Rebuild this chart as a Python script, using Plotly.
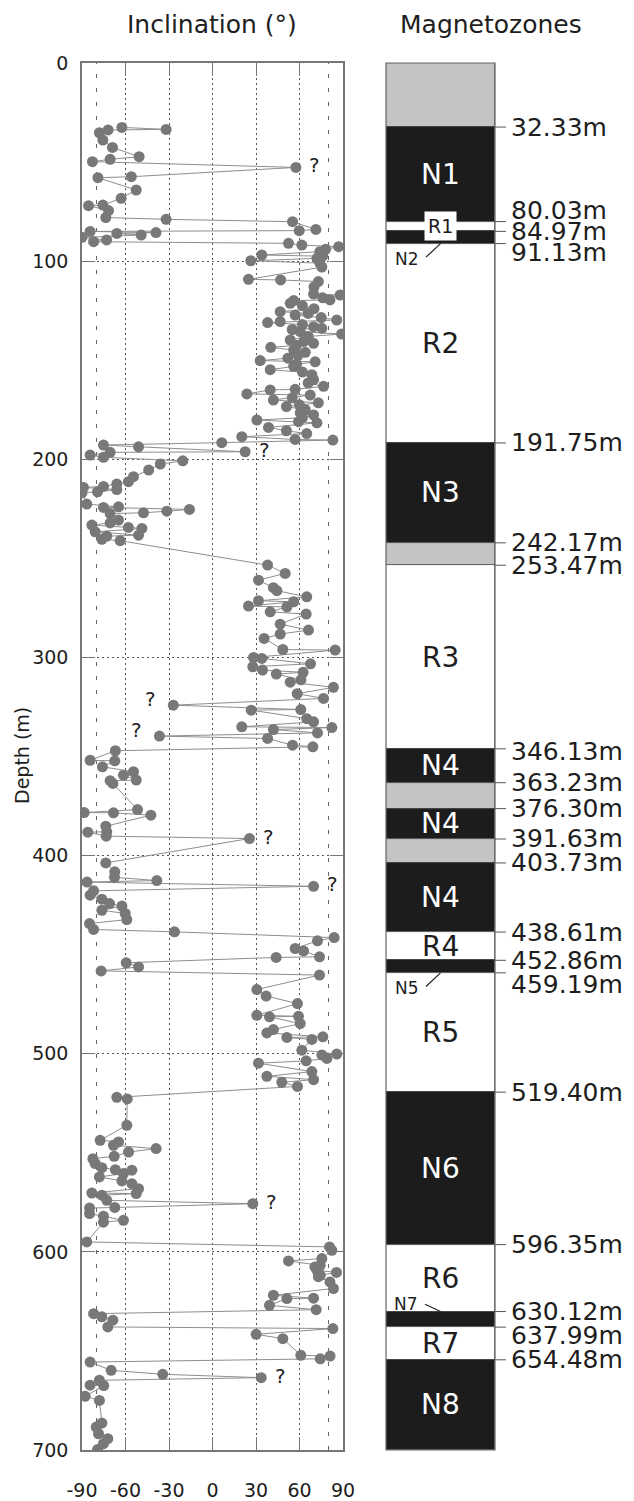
import plotly.graph_objects as go

# ---------------- data ----------------
depth_m = [
    32.5, 33.5, 33.8, 35.2, 38.9, 42.6, 47.3, 48.6, 49.8, 52.7, 57.4, 57.9, 64.1, 68.3, 71.7, 72.0,
    74.5, 78.0, 78.9, 80.1, 84.0, 84.6, 85.0, 85.6, 86.0, 86.8, 88.0, 89.3, 90.2, 91.0, 91.9, 92.7,
    94.0, 95.2, 96.9, 97.5, 98.6, 99.8, 101.0, 103.0, 109.2, 109.5, 110.3, 113.0, 116.6, 117.1, 118.5,
    119.6, 119.9, 121.3, 122.5, 124.0, 125.5, 126.4, 127.2, 128.5, 129.7, 130.5, 131.0, 132.0, 133.1,
    133.9, 134.5, 135.6, 136.8, 138.0, 139.8, 140.5, 141.5, 142.5, 143.5, 144.9, 146.0, 147.5, 149.0,
    150.2, 150.8, 152.0, 153.1, 154.8, 156.0, 157.3, 159.8, 161.5, 163.2, 164.7, 165.0, 167.0, 167.6,
    169.0, 170.1, 171.5, 172.5, 173.4, 175.0, 176.5, 177.6, 179.0, 180.2, 181.0, 181.6, 183.9, 185.6,
    187.0, 188.6, 190.0, 190.3, 191.6, 192.8, 193.7, 196.2, 196.5, 197.9, 199.0, 200.8, 202.4, 205.4,
    208.8, 211.3, 212.5, 213.7, 214.2, 215.3, 216.4, 216.9, 222.6, 224.0, 224.3, 225.3, 226.2, 227.0,
    227.4, 230.7, 232.1, 233.2, 234.4, 234.9, 236.6, 238.3, 238.8, 240.4, 241.1, 253.4, 257.6, 261.0,
    264.8, 266.3, 269.4, 271.4, 271.9, 274.1, 274.5, 277.0, 278.1, 283.2, 286.2, 288.2, 290.4, 296.0,
    296.3, 300.0, 300.5, 303.2, 304.7, 306.4, 307.5, 308.4, 311.3, 312.5, 315.1, 318.3, 320.7, 324.1,
    326.3, 326.6, 330.9, 332.5, 335.0, 335.4, 336.4, 338.1, 339.7, 340.9, 344.3, 345.1, 347.1, 351.9,
    352.2, 355.2, 357.7, 359.4, 361.9, 362.2, 363.6, 376.8, 378.3, 378.4, 379.6, 385.2, 388.0, 388.2,
    390.2, 391.4, 403.7, 408.2, 411.0, 412.6, 413.4, 415.5, 417.8, 420.0, 422.0, 424.2, 425.5, 427.6,
    429.2, 432.3, 434.3, 437.3, 438.5, 441.4, 443.0, 446.9, 448.1, 451.1, 451.4, 454.1, 456.2, 458.2,
    460.3, 467.6, 470.9, 474.7, 480.6, 481.1, 481.4, 484.8, 487.8, 489.5, 491.5, 491.8, 492.8, 498.2,
    500.2, 500.6, 502.4, 503.6, 504.8, 509.0, 511.4, 513.1, 514.4, 516.5, 522.0, 522.8, 536.1, 543.7,
    544.5, 546.2, 547.9, 549.6, 551.8, 553.0, 555.4, 557.5, 558.5, 558.8, 560.5, 562.2, 564.2, 565.6,
    568.1, 570.3, 570.6, 571.4, 574.0, 575.7, 577.6, 577.9, 580.7, 582.0, 584.1, 585.0, 595.0, 597.5,
    599.2, 603.4, 604.6, 606.8, 607.6, 609.3, 610.4, 611.8, 612.5, 615.2, 618.5, 621.9, 623.4, 623.6,
    627.0, 629.2, 631.2, 632.8, 634.5, 637.9, 638.7, 641.6, 643.8, 652.2, 652.6, 654.0, 655.6, 659.8,
    661.8, 663.5, 664.8, 667.3, 667.5, 672.9, 675.0, 686.4, 688.4, 691.8, 694.3, 696.8, 699.8,
]
inclination_deg = [
    -62.5, -32, -72, -78, -75.6, -69, -50.6, -70.6, -82.8, 57.5, -56, -79, -52.6, -63, -75.6, -85.5,
    -71.7, -73.6, -32, 55.2, 71.3, 59.8, -84.4, -39, -66, -49.2, -90, -73, -82, 52.4, 61.6, 87,
    78, 74, 34, 76, 72, 26.4, 74, 75.4, 24.8, 47, 73, 70, 69.7, 88, 76,
    81, 56, 53.6, 62, 70, 46.7, 66, 57, 75, 85.7, 46.7, 38, 62, 69.7,
    75.4, 55, 60.5, 89, 66, 53.6, 63, 69.7, 58, 40.2, 56, 64, 59, 52,
    32.9, 70.8, 58, 56, 39.8, 62, 68.5, 69.7, 66, 76.6, 57, 39.8, 23.7, 67.4,
    55, 42, 73, 60, 51, 64, 60.5, 69.7, 62, 30.6, 59.3, 72, 38.6, 51,
    65, 20.2, 57, 83, 6.4, -75.2, -51, 22.5, -70.6, -84.4, -75.2, -20.5, -36, -44,
    -54.5, -58, -66, -75.2, -89, -66, -79.3, -90, -86.7, -64.8, -75.2, -15.9, -31.5, -47.6,
    -70.6, -64.8, -70.6, -83.2, -58, -48.7, -80.9, -51, -72.9, -76.3, -63.7, 38, 50.1, 31.7,
    42, 44.4, 65, 31.7, 56, 24.8, 51.3, 39.8, 64.6, 46.7, 66.2, 46.7, 35.6, 48.5,
    84.6, 28.3, 34, 67.6, 27.8, 34.5, 62.5, 44, 61, 53.6, 83.4, 58.4, 76.6, -27,
    60.9, 26.7, 65, 69.7, 20.2, 82.3, 42, 72.4, -36.6, 38, 55.2, 69.2, -67, -84.4,
    -67.4, -75.9, -54.5, -61.4, -52.6, -70.6, -68.7, -51.7, -88.5, -68.3, -42.5, -73.6, -72.9, -86,
    -73.3, 25.5, -73.6, -67.4, -67.6, -38.4, -86.5, 69.7, -82, -84.4, -76.3, -71, -62.5, -76.3,
    -60.2, -59.1, -84.8, -82, -26.2, 83.9, 72.4, 57, 62.8, 73.8, 43.9, -59.5, -51, -76.8,
    73.8, 30.6, 37, 58.6, 30.6, 59.3, 39.3, 60.5, 42, 37.5, 76.1, 51.3, 68.5, 61.6,
    85.7, 75.4, 78.9, 64.6, 31.7, 68.5, 37.5, 69.7, 47.8, 58.6, -66, -58.8, -59.1, -77.5,
    -64.8, -68.3, -38.9, -57.9, -67.8, -82.5, -80.9, -76.3, -67, -55.6, -61.4, -78, -62.5, -55.6,
    -51, -83.2, -52.6, -76.3, -72.9, 27.8, -67.4, -84.8, -84.8, -75.2, -61.4, -75.2, -86.7, 80.7,
    82.3, 75.4, 52.4, 74.3, 70.6, 72, 85.5, 74.3, 73, 81, 83.4, 42, 69.7, 51.3,
    39.3, 71.5, -82, -76.3, -68.7, -72.2, 83, 30.1, 48.5, 60.9, 81.1, 74.3, -84.4, -69.9,
    -34.3, 33.6, -78, -84.4, -75, -87.8, -78, -76.3, -80.2, -78.6, -72.2, -75.2, -79.3,
]
# questionable samples ("?") by depth
question_depths = [52.7, 196.2, 324.1, 339.7, 391.4, 415.5, 575.7, 663.5]
question_side = ["r", "r", "l", "l", "r", "r", "r", "r"]

x_tick_vals = [-90, -60, -30, 0, 30, 60, 90]
x_tick_text = ["-90", "-60", "-30", "0", "30", "60", "90"]
y_tick_vals = [0, 100, 200, 300, 400, 500, 600, 700]
ref_incl = [-80, 80]

zone_top = [0, 32.33, 80.03, 84.97, 91.13, 191.75, 242.17, 253.47, 346.13, 363.23, 376.30,
            391.63, 403.73, 438.61, 452.86, 459.19, 519.40, 596.35, 630.12, 637.99, 654.48]
zone_base_depth = 700
zone_polarity = ["gap", "N", "R", "N", "R", "N", "gap", "R", "N", "gap", "N",
                 "gap", "N", "R", "N", "R", "N", "R", "N", "R", "N"]
zone_label = ["", "N1", "R1", "N2", "R2", "N3", "", "R3", "N4", "", "N4",
              "", "N4", "R4", "N5", "R5", "N6", "R6", "N7", "R7", "N8"]

# ---------------- styling ----------------
FONT = "DejaVu Sans, Liberation Sans, Arial"
TXT = "#1e1e1e"
PT = "#787878"
FRAME = "#777777"
GRID = "#555555"
pol_color = {"N": "#1c1c1c", "R": "#ffffff", "gap": "#c3c4c6"}
label_nudge = {80.03: 11, 91.13: -9, 346.13: -3, 459.19: -12, 637.99: -8}
small_labels = {"R1", "N2", "N5", "N7"}

W, H = 634, 1501
fig = go.Figure()

fig.add_trace(go.Scatter(
    x=inclination_deg, y=depth_m, mode="lines+markers",
    line=dict(color="#8e8e8e", width=1),
    marker=dict(size=11, color=PT, line=dict(width=0)),
    xaxis="x", yaxis="y", showlegend=False, hoverinfo="x+y"))

# magnetozone column
zone_bottom = zone_top[1:] + [zone_base_depth]
heights = [b - t for t, b in zip(zone_top, zone_bottom)]
fig.add_trace(go.Bar(
    x=[0] * len(zone_top), y=heights, base=zone_top, width=1,
    marker=dict(color=[pol_color[p] for p in zone_polarity],
                line=dict(color="#444444", width=0.8)),
    xaxis="x2", yaxis="y2", showlegend=False, hoverinfo="skip"))

shapes = []
annotations = []

# column outline
shapes.append(dict(type="rect", xref="x2 domain", yref="y2 domain", x0=0, x1=1, y0=0, y1=1,
                   line=dict(color="#666666", width=1.2), fillcolor="rgba(0,0,0,0)"))

# reference lines at +/-80
for v in ref_incl:
    shapes.append(dict(type="line", xref="x", yref="y domain", x0=v, x1=v, y0=0, y1=1,
                       line=dict(color="#666666", width=1, dash="4px,10px"), layer="below"))

# "?" marks
for qd, side in zip(question_depths, question_side):
    i = depth_m.index(qd)
    annotations.append(dict(
        x=inclination_deg[i], y=depth_m[i], xref="x", yref="y", text="?", showarrow=False,
        xanchor="center", yanchor="middle",
        xshift=19 if side == "r" else -23, yshift=2 if side == "r" else 6,
        font=dict(family=FONT, size=20, color=TXT)))

# boundary ticks + labels
for d in zone_top[1:]:
    shapes.append(dict(type="line", xref="x2 domain", yref="y2", x0=1, x1=1.1, y0=d, y1=d,
                       line=dict(color="#555555", width=1)))
    annotations.append(dict(
        x=1.13, y=d, xref="x2 domain", yref="y2", text=f"{d:.2f}m", showarrow=False,
        xanchor="left", yanchor="middle", yshift=label_nudge.get(d, 0),
        font=dict(family=FONT, size=25, color=TXT)))

# zone labels
for t, b, pol, lab in zip(zone_top, zone_bottom, zone_polarity, zone_label):
    if not lab or lab in small_labels:
        continue
    annotations.append(dict(
        x=0, y=(t + b) / 2, xref="x2", yref="y2", text=lab, showarrow=False,
        xanchor="center", yanchor="middle",
        font=dict(family=FONT, size=28, color="#ffffff" if pol == "N" else TXT)))

for t, b, lab in zip(zone_top, zone_bottom, zone_label):
    if lab == "R1":
        annotations.append(dict(
            x=0, y=(t + b) / 2, xref="x2", yref="y2", text=lab, showarrow=False,
            xanchor="center", yanchor="middle", bgcolor="#ffffff", borderpad=3,
            font=dict(family=FONT, size=19, color=TXT)))
    elif lab in ("N2", "N5"):
        annotations.append(dict(x=0, y=b, xref="x2", yref="y2", text="", showarrow=True,
                                arrowhead=0, arrowwidth=1.2, arrowcolor="#222222",
                                ax=-16, ay=15, standoff=0))
        annotations.append(dict(x=0, y=b, xref="x2", yref="y2", text=lab, showarrow=False,
                                xanchor="center", yanchor="middle", xshift=-34, yshift=-15,
                                font=dict(family=FONT, size=17, color=TXT)))
    elif lab == "N7":
        annotations.append(dict(x=0, y=t, xref="x2", yref="y2", text="", showarrow=True,
                                arrowhead=0, arrowwidth=1.2, arrowcolor="#222222",
                                ax=-17, ay=-8, standoff=0))
        annotations.append(dict(x=0, y=t, xref="x2", yref="y2", text=lab, showarrow=False,
                                xanchor="center", yanchor="middle", xshift=-35, yshift=8,
                                font=dict(family=FONT, size=17, color=TXT)))

# titles
annotations += [
    dict(x=211.5 / W, y=1 - 24 / H, xref="paper", yref="paper", text="Inclination (°)",
         xanchor="center", yanchor="middle",
         showarrow=False, font=dict(family=FONT, size=25, color=TXT)),
    dict(x=491 / W, y=1 - 24 / H, xref="paper", yref="paper", text="Magnetozones",
         xanchor="center", yanchor="middle",
         showarrow=False, font=dict(family=FONT, size=25, color=TXT)),
    dict(x=22 / W, y=1 - 756 / H, xref="paper", yref="paper", text="Depth (m)",
         xanchor="center", yanchor="middle",
         textangle=-90, showarrow=False, font=dict(family=FONT, size=19, color=TXT)),
]

fig.update_layout(
    width=W, height=H, template="none",
    margin=dict(l=0, r=0, t=0, b=0),
    paper_bgcolor="white", plot_bgcolor="white",
    font=dict(family=FONT, color=TXT),
    shapes=shapes, annotations=annotations, bargap=0,
    xaxis=dict(domain=[82 / W, 343 / W], range=[-90, 90], anchor="y",
               tickvals=x_tick_vals, ticktext=x_tick_text,
               ticks="inside", ticklen=13, tickcolor=FRAME, tickwidth=1.2,
               showline=True, linecolor=FRAME, linewidth=1.5, mirror="ticks",
               showgrid=True, gridcolor=GRID, griddash="2px,3px", gridwidth=1,
               zeroline=False, ticklabelstandoff=22, automargin=False,
               tickfont=dict(family=FONT, size=19, color=TXT)),
    yaxis=dict(domain=[1 - 1450 / H, 1 - 63 / H], range=[700, 0], anchor="x",
               tickvals=y_tick_vals, ticks="inside", ticklen=13, tickcolor=FRAME, tickwidth=1.2,
               showline=True, linecolor=FRAME, linewidth=1.5, mirror="ticks",
               showgrid=True, gridcolor=GRID, griddash="2px,3px", gridwidth=1,
               zeroline=False, ticklabelstandoff=8, automargin=False,
               tickfont=dict(family=FONT, size=19, color=TXT)),
    xaxis2=dict(domain=[386 / W, 495 / W], range=[-0.5, 0.5], anchor="y2", visible=False,
                fixedrange=True),
    yaxis2=dict(domain=[1 - 1450 / H, 1 - 63 / H], range=[700, 0], anchor="x2", visible=False),
)

fig.write_html("out.html", config={"displayModeBar": False},
               post_script="document.body.style.margin='0';document.body.style.padding='0';")
